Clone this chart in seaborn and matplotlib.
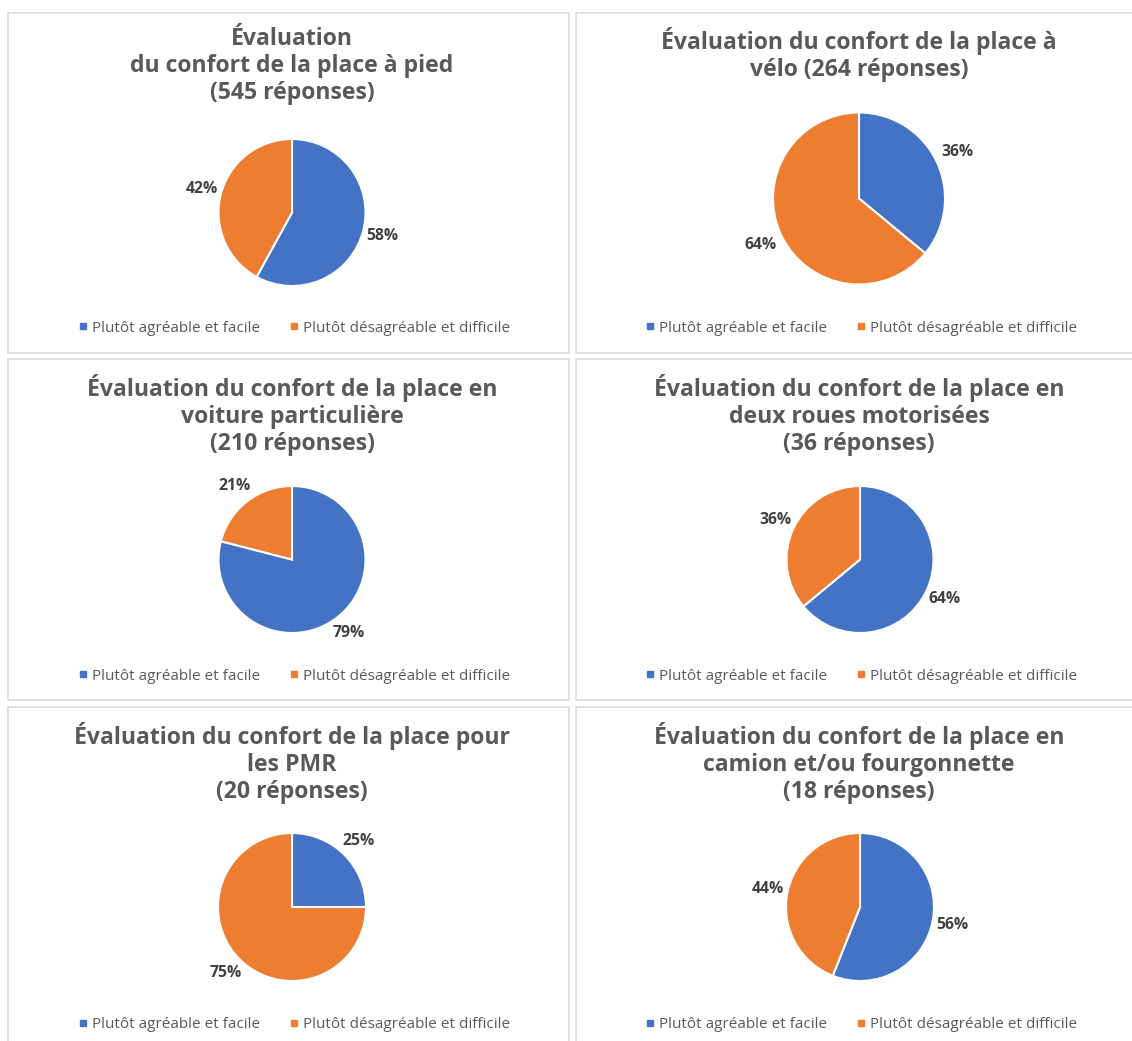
import matplotlib
matplotlib.use("Agg")
import matplotlib.pyplot as plt
from matplotlib.lines import Line2D
from matplotlib.patches import Rectangle
import seaborn as sns

# ---- data ----
titles = [
    "Évaluation\ndu confort de la place à pied\n(545 réponses)",
    "Évaluation du confort de la place à\nvélo (264 réponses)",
    "Évaluation du confort de la place en\nvoiture particulière\n(210 réponses)",
    "Évaluation du confort de la place en\ndeux roues motorisées\n(36 réponses)",
    "Évaluation du confort de la place pour\nles PMR\n(20 réponses)",
    "Évaluation du confort de la place en\ncamion et/ou fourgonnette\n(18 réponses)",
]
categories = ["Plutôt agréable et facile", "Plutôt désagréable et difficile"]
agreable = [58, 36, 79, 64, 25, 56]
desagreable = [42, 64, 21, 36, 75, 44]

sns.set_theme(style="white")
plt.rcParams['font.family'] = ['Open Sans', 'DejaVu Sans']
colors = sns.color_palette(["#4472C4", "#ED7D31"])

W, H = 1132, 1041
fig = plt.figure(figsize=(W / 100, H / 100), dpi=100)
fig.patch.set_facecolor("white")

def fx(x):
    return x / W

def fy(y):
    return 1 - y / H

# panel layout (pixels): left, top, right, bottom
panels = [
    (8, 13, 569, 353), (576, 13, 1140, 353),
    (8, 359, 569, 700), (576, 359, 1140, 700),
    (8, 707, 569, 1050), (576, 707, 1140, 1050),
]
# pie centre and radius (pixels)
pies = [
    (292, 212.5, 73.5), (859, 198.5, 86),
    (292, 559.5, 73.5), (860, 559.5, 73.5),
    (292, 907, 74), (860, 907, 74),
]
title_top = [27, 27, 374, 374, 722, 722]
legend_y = [328, 328, 676, 676, 1025, 1025]

for i in range(6):
    l, t, r, b = panels[i]
    fig.patches.append(Rectangle((fx(l), fy(b)), fx(r - l), (b - t) / H,
                                 transform=fig.transFigure, fill=False,
                                 edgecolor="#dcdcdc", linewidth=1.2, zorder=0))
    cx_panel = 292 if i % 2 == 0 else 859
    fig.text(fx(cx_panel), fy(title_top[i]), titles[i], ha="center", va="top",
             fontsize=16.6, fontweight="bold", color="#595959", linespacing=1.18)

    cx, cy, rad = pies[i]
    ax = fig.add_axes([fx(cx - rad), fy(cy + rad), 2 * rad / W, 2 * rad / H])
    ax.pie([agreable[i], desagreable[i]], colors=colors, startangle=90,
           counterclock=False, radius=1,
           wedgeprops=dict(edgecolor="white", linewidth=1.5),
           autopct="%1.0f%%", pctdistance=1.27,
           textprops=dict(fontsize=11.3, fontweight="bold", color="#404040"))
    ax.set_xlim(-1, 1)
    ax.set_ylim(-1, 1)
    ax.set_aspect("equal")
    ax.axis("off")

    handles = [Line2D([], [], marker="s", linestyle="", markersize=4.5,
                      color=c) for c in colors]
    fig.legend(handles, categories, loc="center",
               bbox_to_anchor=(fx(cx_panel + 2), fy(legend_y[i])), ncol=2,
               frameon=False, fontsize=11, labelcolor="#595959",
               handlelength=0.6, handletextpad=0.3, columnspacing=1.9)

fig.savefig("out.png", dpi=100, facecolor="white")
